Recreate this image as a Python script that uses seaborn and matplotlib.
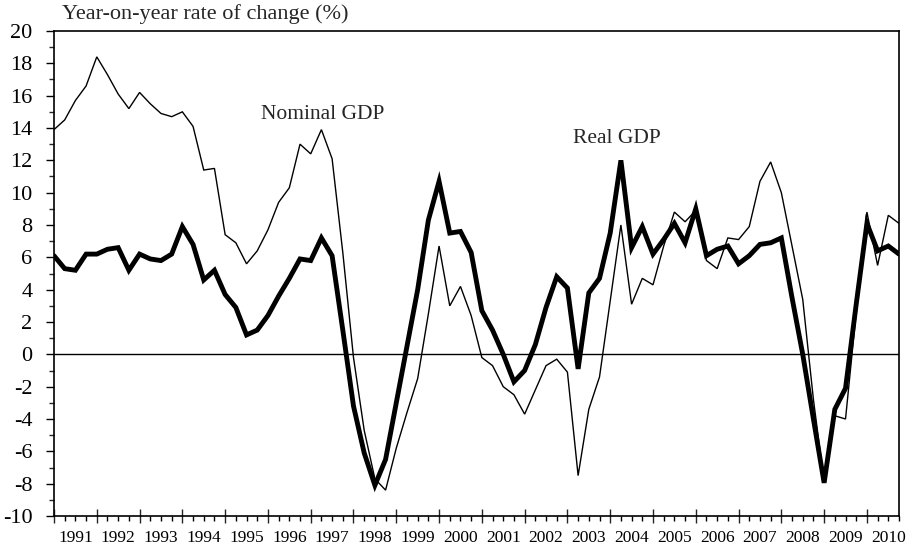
import numpy as np
import pandas as pd
import matplotlib
matplotlib.use("Agg")
import matplotlib.pyplot as plt
from matplotlib.ticker import FixedLocator, FuncFormatter
import seaborn as sns

# ---- data (quarterly, 80 quarters starting 1991Q1) ----
years = list(range(1991, 2011))
nominal_gdp = [13.9, 14.5, 15.7, 16.6, 18.4, 17.3, 16.1, 15.2, 16.2, 15.5,
               14.9, 14.7, 15.0, 14.1, 11.4, 11.5, 7.4, 6.9, 5.6, 6.4,
               7.7, 9.4, 10.3, 13.0, 12.4, 13.9, 12.1, 6.3, -0.2, -4.7,
               -7.7, -8.4, -5.8, -3.6, -1.5, 2.5, 6.7, 3.0, 4.2, 2.4,
               -0.2, -0.7, -2.0, -2.5, -3.7, -2.2, -0.7, -0.3, -1.1, -7.5,
               -3.4, -1.4, 3.3, 8.0, 3.1, 4.7, 4.3, 6.7, 8.8, 8.2,
               8.9, 5.8, 5.3, 7.2, 7.1, 7.9, 10.7, 11.9, 10.0, 6.7,
               3.4, -2.8, -7.9, -3.8, -4.0, 2.6, 8.8, 5.5, 8.6, 8.1]
real_gdp = [6.1, 5.3, 5.2, 6.2, 6.2, 6.5, 6.6, 5.2, 6.2, 5.9,
            5.8, 6.2, 7.9, 6.8, 4.6, 5.2, 3.7, 2.9, 1.2, 1.5,
            2.4, 3.6, 4.7, 5.9, 5.8, 7.2, 6.1, 1.5, -3.2, -6.1,
            -8.1, -6.5, -3.0, 0.5, 4.0, 8.3, 10.7, 7.5, 7.6, 6.3,
            2.7, 1.5, 0.0, -1.7, -1.0, 0.6, 2.9, 4.8, 4.1, -0.9,
            3.8, 4.7, 7.5, 12.0, 6.6, 7.9, 6.2, 7.1, 8.1, 6.9,
            9.0, 6.1, 6.5, 6.7, 5.6, 6.1, 6.8, 6.9, 7.2, 3.5,
            0.0, -4.0, -7.95, -3.4, -2.1, 3.1, 8.1, 6.4, 6.7, 6.2]
y_ticks = list(range(-10, 21, 2))

quarter = np.arange(len(nominal_gdp))
df = pd.DataFrame({"q": np.concatenate([quarter, quarter]),
                   "value": nominal_gdp + real_gdp,
                   "series": ["Nominal GDP"] * len(quarter) + ["Real GDP"] * len(quarter)})

sns.set_style("ticks")
plt.rcParams["font.family"] = ["Liberation Serif", "DejaVu Serif"]

fig = plt.figure(figsize=(9.06, 5.46), dpi=100)
ax = fig.add_axes([54 / 906, 1 - 516 / 546, (899 - 54) / 906, (516 - 31) / 546])

sns.lineplot(data=df[df.series == "Nominal GDP"], x="q", y="value", ax=ax,
             color="black", linewidth=1.0, legend=False,
             solid_joinstyle="miter")
sns.lineplot(data=df[df.series == "Real GDP"], x="q", y="value", ax=ax,
             color="black", linewidth=3.5, legend=False,
             solid_joinstyle="miter")

ax.axhline(0, color="black", linewidth=1.0, zorder=1)

ax.set_xlim(0, len(quarter) - 1)
ax.set_ylim(-10, 20)

# y axis
ax.yaxis.set_major_locator(FixedLocator(y_ticks))
ax.yaxis.set_minor_locator(FixedLocator(list(range(-10, 21))))
ax.set_yticklabels([str(v) for v in y_ticks])
ax.tick_params(axis="y", which="major", direction="out", length=5.5, width=1.0,
               labelsize=16, pad=10, colors="black")
ax.tick_params(axis="y", which="minor", direction="out", length=3.5, width=1.0)

# x axis: year boundaries major, quarter ticks minor carrying year labels
major_x = list(range(0, len(quarter), 4))
minor_x = [q for q in range(len(quarter)) if q % 4 != 0]
ax.xaxis.set_major_locator(FixedLocator(major_x))
ax.xaxis.set_minor_locator(FixedLocator(minor_x))
ax.xaxis.set_major_formatter(FuncFormatter(lambda v, p: ""))
ax.xaxis.set_minor_formatter(FuncFormatter(
    lambda v, p: str(years[int(round(v)) // 4]) if int(round(v)) % 4 == 2 else ""))
ax.tick_params(axis="x", which="major", direction="inout", length=10, width=1.0)
ax.tick_params(axis="x", which="minor", direction="out", length=3.5, width=1.0,
               labelsize=12.5, pad=6.5, colors="black")

ax.set_xlabel("")
ax.set_ylabel("")
for s in ax.spines.values():
    s.set_visible(True)
    s.set_linewidth(1.2)
    s.set_color("black")

ax.text(19.35, 14.55, "Nominal GDP", fontsize=15.5, ha="left", va="baseline")
ax.text(48.5, 13.1, "Real GDP", fontsize=15.5, ha="left", va="baseline")

fig.text(62 / 906, 1 - 19 / 546, "Year-on-year rate of change (%)",
         fontsize=16, ha="left", va="baseline")

fig.savefig("out.png", dpi=100)
